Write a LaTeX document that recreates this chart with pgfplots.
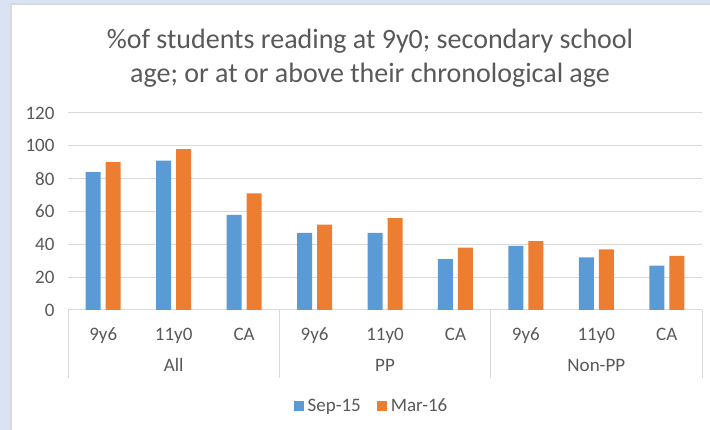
\documentclass[border=0pt]{standalone}
\usepackage{pgfplots}
\pgfplotsset{compat=1.18}
\usepackage{fontspec}
\setmainfont{Carlito}
\definecolor{sepblue}{HTML}{5B9BD5}
\definecolor{marorange}{HTML}{ED7D31}
\definecolor{gridgray}{HTML}{D9D9D9}
\definecolor{txtgray}{HTML}{595959}
\definecolor{framebg}{HTML}{DAE3F3}
\begin{document}
\begin{tikzpicture}
\useasboundingbox (0pt,0pt) rectangle (710pt,430pt);
\fill[framebg] (0pt,0pt) rectangle (710pt,430pt);
\fill[white] (10pt,0pt) rectangle (710pt,425pt);
\draw[gridgray, line width=1.5pt] (10.75pt,0pt) -- (10.75pt,425.75pt) -- (710pt,425.75pt);
\node[text=txtgray, font=\fontsize{28}{33.5}\selectfont, align=center] at (370pt,372pt)
  {\%of students reading at 9y0; secondary school\\age; or at or above their chronological age};
\begin{axis}[
  at={(68pt,120pt)}, anchor=south west,
  width=634pt, height=197pt, scale only axis,
  xmin=-0.5, xmax=8.5, ymin=0, ymax=120,
  ytick={0,20,...,120},
  xtick={0,...,8},
  xticklabels={9y6,11y0,CA,9y6,11y0,CA,9y6,11y0,CA},
  ymajorgrids, grid style={gridgray, line width=1pt},
  axis line style={draw=none},
  major tick length=0pt,
  tick label style={font=\fontsize{19}{20}\selectfont, text=txtgray},
  /pgf/number format/assume math mode=true,
  yticklabel style={xshift=-10pt},
  xticklabel style={anchor=base, yshift=-31pt},
  ybar=5pt, bar width=15pt,
  clip=false,
  legend style={at={(0.4787,-0.487)}, anchor=center, draw=none, fill=none,
    legend columns=2, font=\fontsize{19}{20}\selectfont, text=txtgray,
    /tikz/every even column/.append style={column sep=14pt}},
  legend image code/.code={\fill[#1] (0pt,-5pt) rectangle (10pt,5pt); \path (12pt,0pt);},
]
\addplot[fill=sepblue, draw=none] coordinates {(0,84) (1,91) (2,58) (3,47) (4,47) (5,31) (6,39) (7,32) (8,27)};
\addlegendentry{Sep-15}
\addplot[fill=marorange, draw=none] coordinates {(0,90) (1,98) (2,71) (3,52) (4,56) (5,38) (6,42) (7,37) (8,33)};
\addlegendentry{Mar-16}
\foreach \s in {-0.5,2.5,5.5,8.5} {
  \edef\temp{\noexpand\draw[gridgray, line width=1pt] (axis cs:\s,0) -- ++(0pt,-68pt);}
  \temp
}
\node[text=txtgray, font=\fontsize{19}{20}\selectfont, anchor=base, yshift=-62pt] at (axis cs:1,0) {All};
\node[text=txtgray, font=\fontsize{19}{20}\selectfont, anchor=base, yshift=-62pt] at (axis cs:4,0) {PP};
\node[text=txtgray, font=\fontsize{19}{20}\selectfont, anchor=base, yshift=-62pt] at (axis cs:7,0) {Non-PP};
\end{axis}
\end{tikzpicture}
\end{document}
